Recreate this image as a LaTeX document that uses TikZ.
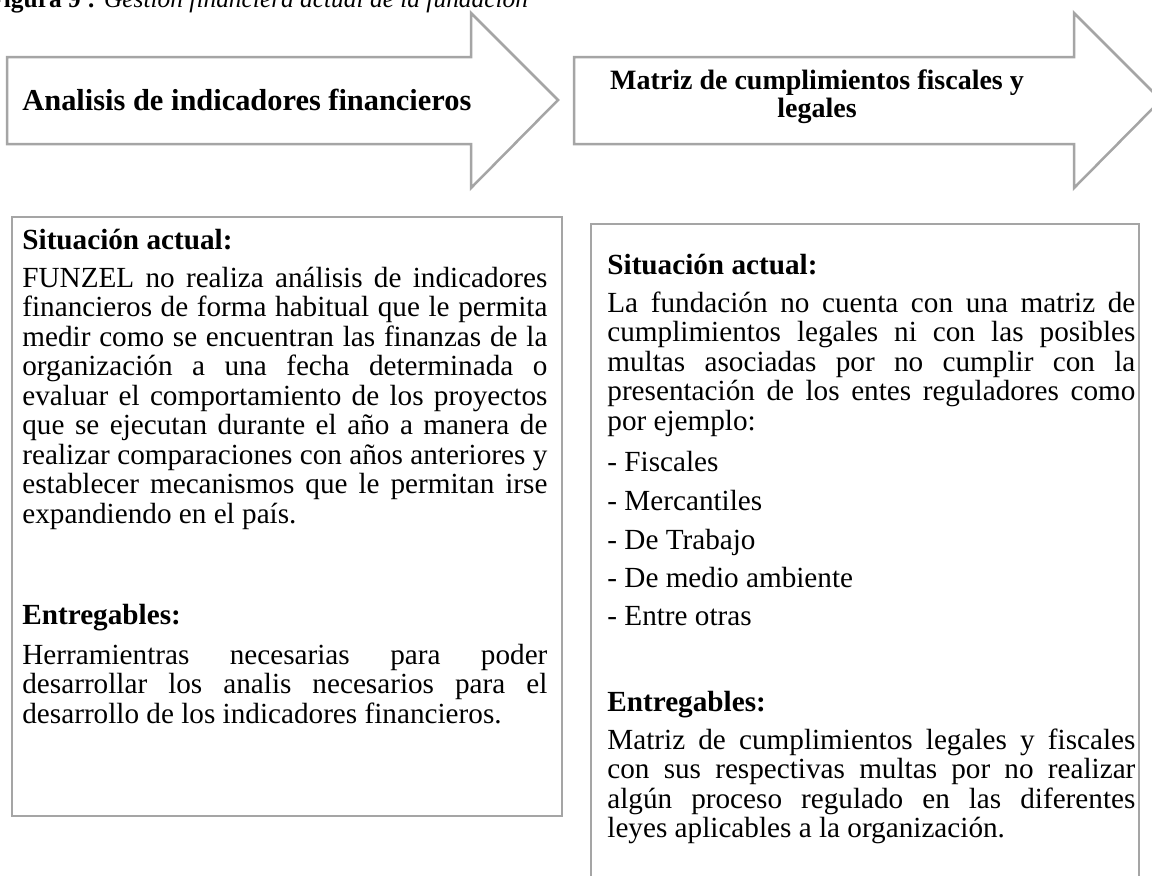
\documentclass[tikz,border=0pt]{standalone}
\usepackage{fontspec}
\setmainfont{Liberation Serif}
\definecolor{bordergray}{RGB}{165,165,165}
\newcommand\jla[1]{{\spaceskip=.25em plus 1.5em minus .12em\makebox[262.5pt][s]{#1}}}
\newcommand\jlb[1]{{\spaceskip=.25em plus 1.5em minus .12em\makebox[264pt][s]{#1}}}
\tikzset{
  arrowshape/.style={draw=bordergray, line width=1.25pt, line join=miter, fill=white},
  boxshape/.style={draw=bordergray, line width=1.4pt, fill=white},
  txt/.style={anchor=base west, inner sep=0pt, align=justify, font=\fontsize{14.6}{14.75}\selectfont},
  head/.style={anchor=base west, inner sep=0pt, font=\fontsize{14.6}{14.75}\selectfont\bfseries},
  title/.style={inner sep=0pt, font=\fontsize{15.2}{14}\selectfont\bfseries}
}
\begin{document}
\begin{tikzpicture}[x=0.5pt,y=-0.5pt]
\useasboundingbox (0,0) rectangle (1152,875);
\clip (0,0) rectangle (1152,875);
\fill[white] (0,0) rectangle (1152,875);
% caption (cut at the top edge)
\node[anchor=base west, inner sep=0pt, font=\fontsize{12.7}{14}\selectfont] (cap) at (-12,7)
  {\textbf{Figura 9 :} \textit{Gestión financiera actual de la fundación}};
% arrows
\draw[arrowshape] (7,57) -- (471,57) -- (471,13) -- (558,100) -- (471,188) -- (471,144) -- (7,144) -- cycle;
\draw[arrowshape] (574,57) -- (1074,57) -- (1074,13) -- (1161,100) -- (1074,188) -- (1074,144) -- (574,144) -- cycle;
\node[title, anchor=base west] (t1) at (22,110) {Analisis de indicadores financieros};
\node[title, anchor=base, align=center, font=\fontsize{14}{14}\selectfont\bfseries] (t2) at (817,117) {Matriz de cumplimientos fiscales y\\legales};
% boxes
\draw[boxshape] (12,217) rectangle (562,816);
\draw[boxshape] (591,224) rectangle (1139,900);
% left box text
\node[head] (lh1) at (22,249) {Situación actual:};
\node[txt, text width=262.5pt] (lp1) at (22,287) {%
\jla{FUNZEL no realiza análisis de indicadores}\\
\jla{financieros de forma habitual que le permita}\\
\jla{medir como se encuentran las finanzas de la}\\
\jla{organización a una fecha determinada o}\\
\jla{evaluar el comportamiento de los proyectos}\\
\jla{que se ejecutan durante el año a manera de}\\
\jla{realizar comparaciones con años anteriores y}\\
\jla{establecer mecanismos que le permitan irse}\\
expandiendo en el país.};
\node[head] (lh2) at (22,624) {Entregables:};
\node[txt, text width=262.5pt] (lp2) at (22,664) {%
\jla{Herramientras necesarias para poder}\\
\jla{desarrollar los analis necesarios para el}\\
desarrollo de los indicadores financieros.};
% right box text
\node[head] (rh1) at (607,274) {Situación actual:};
\node[txt, text width=264pt] (rp1) at (607,312) {%
\jlb{La fundación no cuenta con una matriz de}\\
\jlb{cumplimientos legales ni con las posibles}\\
\jlb{multas asociadas por no cumplir con la}\\
\jlb{presentación de los entes reguladores como}\\
por ejemplo:};
\node[txt] (ri1) at (607,471) {- Fiscales};
\node[txt] (ri2) at (607,510) {- Mercantiles};
\node[txt] (ri3) at (607,549) {- De Trabajo};
\node[txt] (ri4) at (607,587) {- De medio ambiente};
\node[txt] (ri5) at (607,625) {- Entre otras};
\node[head] (rh2) at (607,711) {Entregables:};
\node[txt, text width=264pt] (rp2) at (607,749) {%
\jlb{Matriz de cumplimientos legales y fiscales}\\
\jlb{con sus respectivas multas por no realizar}\\
\jlb{algún proceso regulado en las diferentes}\\
leyes aplicables a la organización.};
\end{tikzpicture}
\end{document}
